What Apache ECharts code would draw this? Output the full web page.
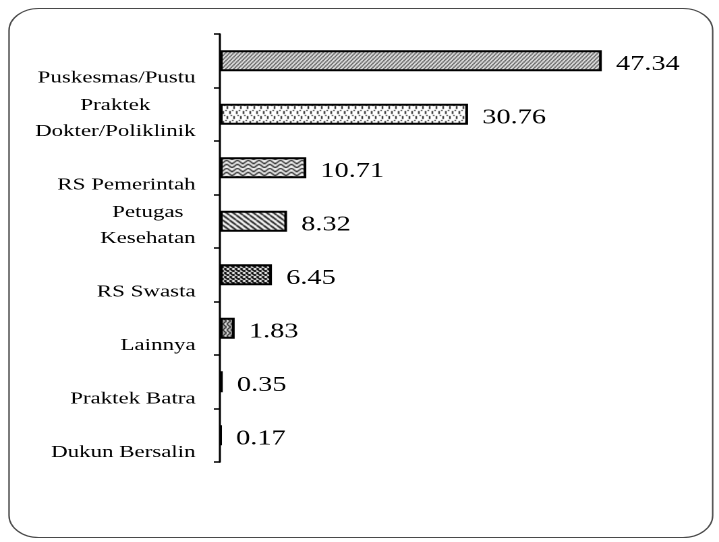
<!DOCTYPE html>
<html>
<head>
<meta charset="utf-8">
<script src="https://cdn.jsdelivr.net/npm/echarts@6/dist/echarts.min.js"></script>
<style>
  html, body { margin: 0; padding: 0; background: #ffffff; overflow: hidden; }
  /* The chart is laid out narrow and widened horizontally, giving the broad serif lettering. */
  #chart { width: 533px; height: 542px; transform: scaleX(1.349); transform-origin: 0 0; }
</style>
</head>
<body>
<div id="chart"></div>
<script>
// Tempat berobat (persen)
const categories = [
  'Puskesmas/Pustu',
  'Praktek\nDokter/Poliklinik',
  'RS Pemerintah',
  'Petugas\nKesehatan',
  'RS Swasta',
  'Lainnya',
  'Praktek Batra',
  'Dukun Bersalin'
];
const percentages = [47.34, 30.76, 10.71, 8.32, 6.45, 1.83, 0.35, 0.17];

// ---- fill patterns for the bars ----
function tile(w, h, bg, draw) {
  const c = document.createElement('canvas');
  c.width = w; c.height = h;
  const g = c.getContext('2d');
  g.fillStyle = bg; g.fillRect(0, 0, w, h);
  g.strokeStyle = '#000'; g.fillStyle = '#000';
  draw(g, w, h);
  return { image: c, repeat: 'repeat' };
}
function line(g, pts, lw) {
  g.lineWidth = lw;
  g.beginPath();
  g.moveTo(pts[0][0], pts[0][1]);
  for (let i = 1; i < pts.length; i++) g.lineTo(pts[i][0], pts[i][1]);
  g.stroke();
}
const fills = [
  // dense forward hatch
  tile(3, 4, '#fff', (g, w, h) => {
    for (let k = -1; k <= 1; k++) line(g, [[k * w, h], [k * w + w, 0]], 1);
  }),
  // small staggered vertical dashes
  tile(5, 10, '#fff', (g) => {
    g.fillRect(0, 1, 1, 3);
    g.fillRect(2, 0, 1, 1);
    g.fillRect(3, 6, 1, 3);
    g.fillRect(1, 5, 1, 1);
  }),
  // woven chevrons
  tile(8, 8, '#fff', (g) => {
    g.strokeStyle = '#111';
    line(g, [[0, 0], [4, 4], [8, 0]], 1.2);
    line(g, [[0, 4], [4, 8], [8, 4]], 1.2);
  }),
  // wide backward hatch
  tile(5, 5, '#fff', (g, w, h) => {
    for (let k = -1; k <= 1; k++) line(g, [[k * w, 0], [k * w + w, h]], 1.4);
  }),
  // dark stipple
  tile(4, 4, '#000', (g) => {
    g.fillStyle = '#fff';
    g.fillRect(0, 0, 2, 2);
    g.fillRect(2, 2, 1, 2);
    g.fillRect(3, 3, 1, 1);
  }),
  // sideways chevrons
  tile(6, 6, '#fff', (g) => {
    line(g, [[0, 0], [3, 3], [0, 6]], 1.1);
    line(g, [[3, 0], [6, 3], [3, 6]], 1.1);
  }),
  tile(2, 2, '#000', () => {}),
  tile(2, 2, '#000', () => {})
];

const barData = percentages.map((v, i) => ({
  value: v,
  itemStyle: { color: fills[i] }
}));

const serif = '"Liberation Serif", "Times New Roman", serif';

const chart = echarts.init(document.getElementById('chart'), null, { devicePixelRatio: 2 });
chart.setOption({
  animation: false,
  backgroundColor: '#ffffff',
  graphic: [{
    type: 'rect',
    z: -10,
    silent: true,
    shape: { x: 6.7, y: 8.5, width: 521.6, height: 529, r: 22 },
    style: { fill: 'none', stroke: '#4a4a4a', lineWidth: 1.1 }
  }],
  grid: { left: 163, top: 34, width: 299, height: 428, containLabel: false },
  xAxis: {
    type: 'value',
    min: 0,
    max: 50,
    show: false
  },
  yAxis: {
    type: 'category',
    inverse: true,
    data: categories,
    axisLine: { show: true, lineStyle: { color: '#000', width: 1.5 } },
    axisTick: { show: true, length: 4.5, lineStyle: { color: '#000', width: 1.5 } },
    axisLabel: {
      interval: 0,
      margin: 18,
      color: '#000',
      fontFamily: serif,
      fontSize: 17,
      lineHeight: 26,
      formatter: (name) => {
        const parts = name.split('\n');
        if (parts.length === 1) parts.unshift(' ');
        // a thin spacer line on top nudges each label block slightly downward
        return '{s| }\n' + parts.map(p => '{c|' + p + '}').join('\n');
      },
      rich: {
        s: { fontSize: 2, lineHeight: 9 },
        c: { align: 'center', fontFamily: serif, fontSize: 17, lineHeight: 26, color: '#000' }
      }
    },
    splitLine: { show: false }
  },
  series: [{
    type: 'bar',
    data: barData,
    barWidth: 21,
    itemStyle: { borderColor: '#000', borderWidth: 2 },
    label: {
      show: true,
      position: 'right',
      distance: 10.5,
      offset: [0, 3.5],
      color: '#000',
      fontFamily: serif,
      fontSize: 21,
      formatter: (p) => p.value.toFixed(2)
    }
  }]
});
</script>
</body>
</html>
